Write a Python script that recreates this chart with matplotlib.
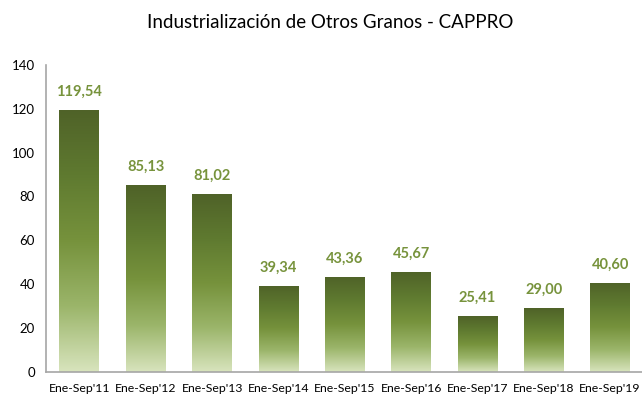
import matplotlib.pyplot as plt
import numpy as np
from matplotlib.colors import LinearSegmentedColormap

# data
periods = ["Ene-Sep'11", "Ene-Sep'12", "Ene-Sep'13", "Ene-Sep'14", "Ene-Sep'15",
           "Ene-Sep'16", "Ene-Sep'17", "Ene-Sep'18", "Ene-Sep'19"]
values = [119.54, 85.13, 81.02, 39.34, 43.36, 45.67, 25.41, 29.00, 40.60]
yticks = [0, 20, 40, 60, 80, 100, 120, 140]

plt.rcParams['font.family'] = ['Lato', 'DejaVu Sans']

# bottom light -> middle olive -> top dark
grad = LinearSegmentedColormap.from_list(
    "olive", ["#d8e4bd", "#9bb56a", "#76923c", "#5f7a30", "#4f6228"])

fig = plt.figure(figsize=(6.42, 4.05), dpi=100)
ax = fig.add_axes([0.072, 0.082, 0.93, 0.758])

bars = ax.bar(range(len(values)), values, width=0.6, color="none",
              edgecolor="none", zorder=3)

g = np.linspace(0, 1, 256).reshape(-1, 1)
for b in bars:
    x0, y0 = b.get_x(), b.get_y()
    im = ax.imshow(g, cmap=grad, origin="lower", aspect="auto",
                   extent=(x0 - 0.02, x0 + b.get_width() + 0.02, y0, y0 + b.get_height()),
                   zorder=2, interpolation="bilinear")
    im.set_clip_path(b)

for i, v in enumerate(values):
    ax.text(i, v + 5, f"{v:.2f}".replace(".", ","), ha="center", va="bottom",
            color="#77933c", fontsize=10.5, fontweight="bold")

ax.set_xlim(-0.5, len(values) - 0.5)
ax.set_ylim(0, 140)
ax.set_yticks(yticks)
ax.set_xticks(range(len(values)))
ax.set_xticklabels(periods, fontsize=8.8)
ax.tick_params(axis="y", labelsize=9.5, length=0, pad=8)
ax.tick_params(axis="x", length=0, pad=8)

for s in ["top", "right"]:
    ax.spines[s].set_visible(False)
for s in ["left", "bottom"]:
    ax.spines[s].set_color("#a6a6a6")
    ax.spines[s].set_linewidth(1.2)

fig.text(0.515, 0.945, "Industrialización de Otros Granos - CAPPRO",
         ha="center", va="center", fontsize=13.5)

plt.savefig("out.png", dpi=100)
